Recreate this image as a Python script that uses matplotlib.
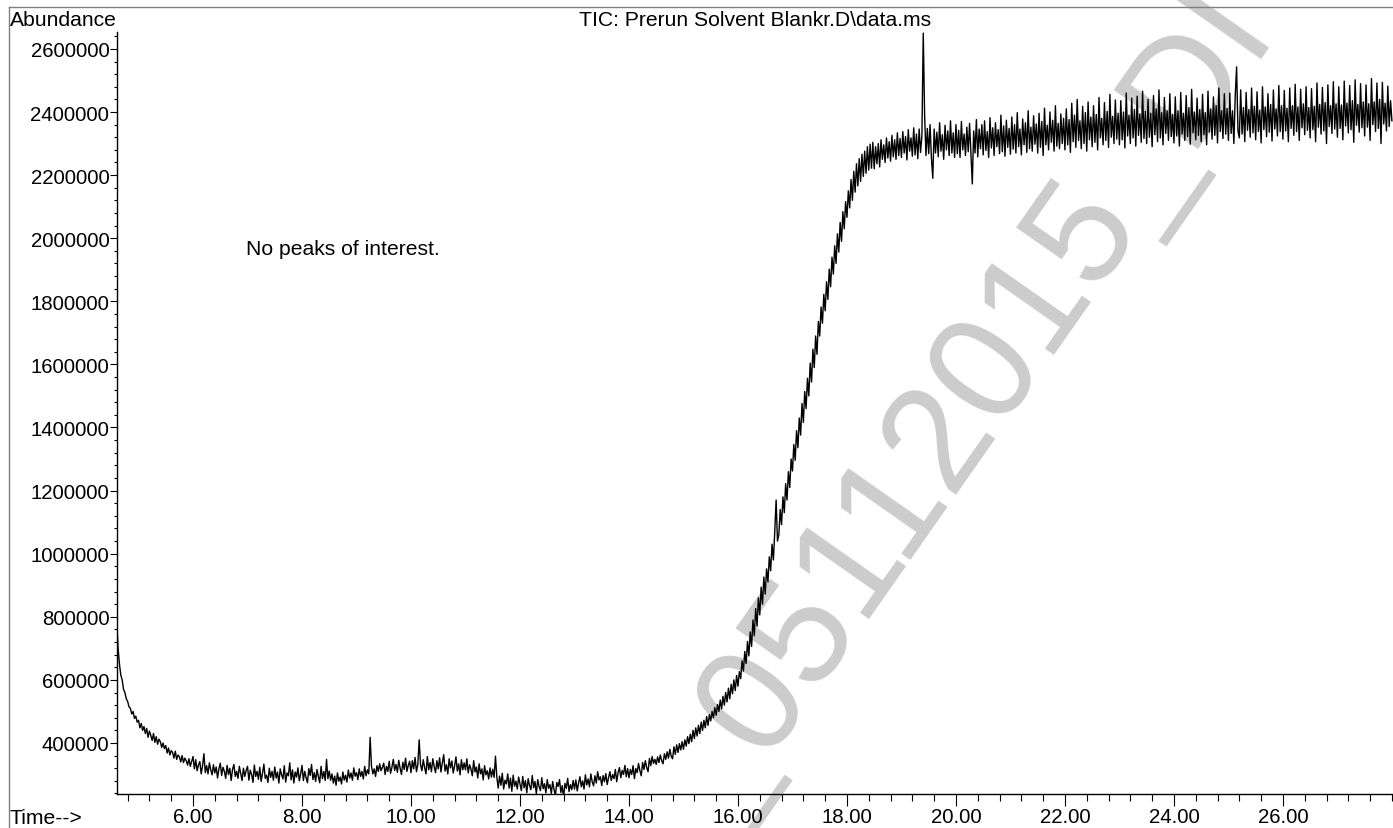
import numpy as np
import matplotlib
matplotlib.use("Agg")
import matplotlib.pyplot as plt
from matplotlib.ticker import FixedLocator, MultipleLocator, FuncFormatter
from matplotlib.lines import Line2D

plt.rcParams['font.family'] = ['Liberation Sans', 'DejaVu Sans']

# Scan grid of the TIC trace (minutes)
scan_start = 4.600
scan_step = 0.025

# Abundance, in thousands, one value per scan step
abundance_k = [
    # 4.600 - 4.975
    790, 700, 650, 615, 600, 570, 560, 540, 532, 515, 510, 492, 500, 478, 485, 466,
    # 5.000
    472, 448, 462, 440, 452, 430, 446, 418, 438, 424, 408, 430, 402, 420, 396, 412, 404, 386, 400, 382,
    # 5.500
    392, 368, 384, 362, 376, 370, 352, 374, 348, 362, 356, 340, 360, 338, 352, 344, 330, 350, 326, 342,
    # 6.000
    357, 318, 347, 312, 331, 341, 302, 328, 366, 306, 328, 302, 337, 315, 299, 331, 305, 324, 289, 318,
    # 6.500
    336, 297, 323, 310, 288, 329, 300, 320, 281, 316, 332, 294, 310, 288, 326, 304, 281, 320, 294, 313,
    # 7.000
    326, 282, 314, 301, 275, 330, 294, 310, 285, 323, 278, 304, 333, 288, 298, 275, 320, 291, 310, 282,
    # 7.500
    324, 289, 308, 273, 318, 299, 286, 328, 276, 305, 296, 337, 283, 315, 273, 308, 292, 321, 280, 302,
    # 8.000
    329, 281, 310, 290, 274, 319, 297, 332, 284, 306, 278, 316, 294, 274, 326, 287, 310, 281, 348, 287,
    # 8.500
    311, 282, 302, 273, 295, 266, 305, 279, 292, 270, 308, 282, 298, 276, 314, 289, 305, 282, 321, 295,
    # 9.000
    306, 284, 318, 294, 310, 286, 326, 296, 315, 302, 418, 326, 302, 318, 294, 328, 310, 334, 312, 323,
    # 9.500
    336, 300, 326, 310, 342, 304, 323, 348, 313, 332, 307, 345, 320, 300, 339, 316, 352, 310, 329, 342,
    # 10.000
    306, 344, 318, 354, 309, 331, 410, 331, 312, 347, 322, 302, 357, 315, 338, 309, 350, 325, 306, 344,
    # 10.500
    318, 353, 308, 337, 363, 311, 331, 302, 350, 321, 343, 305, 327, 356, 311, 334, 299, 347, 315, 337,
    # 11.000
    315, 350, 305, 331, 318, 296, 344, 308, 324, 289, 334, 302, 318, 283, 328, 299, 312, 286, 321, 292,
    # 11.500
    317, 291, 358, 292, 257, 295, 266, 304, 254, 282, 270, 302, 257, 289, 247, 298, 263, 279, 254, 292,
    # 12.000
    271, 249, 294, 258, 281, 242, 287, 265, 252, 297, 258, 278, 239, 284, 262, 249, 290, 255, 271, 242,
    # 12.500
    284, 256, 268, 240, 278, 252, 233, 275, 262, 284, 243, 265, 227, 272, 256, 288, 246, 268, 252, 281,
    # 13.000
    254, 283, 248, 273, 293, 261, 280, 254, 299, 267, 286, 261, 302, 277, 264, 296, 273, 309, 283, 293,
    # 13.500
    265, 297, 277, 303, 268, 290, 309, 281, 300, 287, 316, 277, 306, 322, 290, 313, 300, 329, 293, 319,
    # 14.000
    290, 316, 300, 328, 287, 319, 306, 335, 312, 296, 338, 316, 344, 322, 309, 351, 328, 357, 335, 348,
    # 14.500
    332, 356, 338, 362, 344, 334, 366, 348, 372, 352, 380, 358, 350, 388, 364, 394, 370, 398, 378, 404,
    # 15.000
    380, 410, 390, 420, 398, 428, 404, 440, 414, 448, 422, 456, 430, 466, 440, 472, 448, 484, 456, 490,
    # 15.500
    470, 500, 480, 512, 488, 522, 500, 536, 508, 548, 520, 560, 530, 574, 540, 586, 556, 600, 566, 614,
    # 16.000
    580, 626, 604, 660, 628, 690, 652, 722, 676, 752, 706, 790, 740, 826, 770, 860, 806, 894, 840, 926,
    # 16.500
    872, 952, 910, 990, 946, 1030, 980, 1070, 1170, 1040, 1060, 1140, 1092, 1180, 1130, 1222, 1170, 1260, 1210, 1300,
    # 17.000
    1262, 1346, 1296, 1390, 1336, 1430, 1376, 1476, 1416, 1514, 1460, 1556, 1500, 1604, 1544, 1648, 1590, 1690, 1632, 1736,
    # 17.500
    1690, 1782, 1730, 1822, 1770, 1862, 1806, 1902, 1846, 1940, 1886, 1976, 1920, 2014, 1956, 2050, 1990, 2084, 2030, 2116,
    # 18.000
    2066, 2150, 2096, 2186, 2120, 2212, 2146, 2236, 2166, 2252, 2180, 2266, 2196, 2276, 2206, 2290, 2216, 2298, 2222, 2304,
    # 18.500
    2220, 2290, 2236, 2300, 2226, 2312, 2250, 2296, 2240, 2318, 2254, 2306, 2244, 2326, 2258, 2312, 2250, 2334, 2262, 2316,
    # 19.000
    2256, 2338, 2270, 2322, 2248, 2344, 2276, 2318, 2260, 2350, 2264, 2330, 2252, 2346, 2272, 2324, 2650, 2390, 2262, 2348,
    # 19.500
    2268, 2360, 2254, 2190, 2346, 2270, 2336, 2258, 2366, 2276, 2328, 2250, 2358, 2280, 2340, 2262, 2372, 2270, 2334, 2256,
    # 20.000
    2360, 2268, 2342, 2256, 2370, 2280, 2330, 2262, 2352, 2274, 2364, 2266, 2172, 2340, 2270, 2376, 2258, 2346, 2284, 2360,
    # 20.500
    2264, 2372, 2278, 2338, 2256, 2382, 2286, 2350, 2262, 2366, 2290, 2344, 2268, 2390, 2274, 2356, 2260, 2374, 2288, 2348,
    # 21.000
    2266, 2384, 2282, 2360, 2270, 2398, 2290, 2346, 2264, 2378, 2296, 2366, 2272, 2404, 2284, 2352, 2276, 2388, 2298, 2362,
    # 21.500
    2270, 2396, 2288, 2370, 2262, 2412, 2296, 2358, 2280, 2400, 2304, 2374, 2276, 2420, 2292, 2364, 2284, 2394, 2300, 2380,
    # 22.000
    2280, 2410, 2296, 2376, 2272, 2428, 2306, 2390, 2288, 2440, 2310, 2372, 2284, 2418, 2300, 2398, 2276, 2432, 2312, 2384,
    # 22.500
    2290, 2420, 2304, 2392, 2280, 2446, 2318, 2380, 2296, 2430, 2310, 2402, 2288, 2456, 2320, 2386, 2300, 2438, 2314, 2396,
    # 23.000
    2296, 2436, 2312, 2400, 2286, 2460, 2324, 2390, 2300, 2444, 2318, 2408, 2292, 2450, 2326, 2394, 2304, 2466, 2316, 2402,
    # 23.500
    2300, 2440, 2320, 2396, 2290, 2452, 2328, 2410, 2306, 2470, 2318, 2398, 2296, 2446, 2332, 2404, 2310, 2458, 2322, 2392,
    # 24.000
    2302, 2448, 2324, 2404, 2292, 2462, 2330, 2396, 2310, 2452, 2322, 2414, 2298, 2472, 2334, 2400, 2312, 2444, 2326, 2408,
    # 24.500
    2306, 2456, 2328, 2398, 2296, 2466, 2336, 2410, 2314, 2448, 2326, 2420, 2302, 2476, 2338, 2404, 2316, 2458, 2330, 2412,
    # 25.000
    2310, 2460, 2332, 2404, 2300, 2452, 2543, 2340, 2318, 2470, 2330, 2414, 2306, 2462, 2342, 2408, 2320, 2476, 2334, 2418,
    # 25.500
    2312, 2464, 2338, 2406, 2302, 2480, 2344, 2416, 2322, 2458, 2336, 2424, 2308, 2470, 2346, 2410, 2324, 2484, 2338, 2420,
    # 26.000
    2314, 2468, 2340, 2412, 2306, 2476, 2348, 2420, 2326, 2488, 2338, 2416, 2310, 2472, 2350, 2426, 2328, 2480, 2342, 2414,
    # 26.500
    2318, 2474, 2344, 2418, 2306, 2492, 2352, 2424, 2330, 2478, 2340, 2430, 2300, 2486, 2354, 2420, 2332, 2496, 2346, 2426,
    # 27.000
    2320, 2480, 2348, 2422, 2312, 2498, 2356, 2428, 2334, 2484, 2344, 2436, 2304, 2502, 2358, 2424, 2336, 2490, 2350, 2432,
    # 27.500
    2324, 2486, 2352, 2426, 2310, 2506, 2360, 2432, 2338, 2492, 2348, 2440, 2300, 2494, 2362, 2428, 2340, 2482, 2354, 2436,
    # 28.000
    2372,
]

x_major = [6, 8, 10, 12, 14, 16, 18, 20, 22, 24, 26]
y_major = [400000, 600000, 800000, 1000000, 1200000, 1400000,
           1600000, 1800000, 2000000, 2200000, 2400000, 2600000]

title = "TIC: Prerun Solvent Blankr.D\\data.ms"
note = "No peaks of interest."
watermark = "_05112015_DI"

time = scan_start + scan_step * np.arange(len(abundance_k))
abundance = np.array(abundance_k) * 1000

W, H = 1393, 829
fig = plt.figure(figsize=(W / 100, H / 100), dpi=100)

# Watermark sits under the axes, so the axes background is left transparent
fig.text(968 / W, 1 - 414 / H, watermark, fontsize=108, color="#cccccc",
         rotation=55, rotation_mode="anchor", ha="center", va="center",
         zorder=-1)

ax = fig.add_axes([117 / W, 1 - 795 / H, 1 - 117 / W, (795 - 33) / H])
ax.set_facecolor("none")

ax.plot(time, abundance, color="black", linewidth=1.0)

ax.set_xlim(4.605, 28.02)
ax.set_ylim(238300, 2653600)

for side in ["top", "right"]:
    ax.spines[side].set_visible(False)
for side in ["left", "bottom"]:
    ax.spines[side].set_linewidth(1.0)

ax.xaxis.set_major_locator(FixedLocator(x_major))
ax.xaxis.set_minor_locator(MultipleLocator(0.4))
ax.xaxis.set_major_formatter(FuncFormatter(lambda v, p: f"{v:.2f}"))
ax.yaxis.set_major_locator(FixedLocator(y_major))
ax.yaxis.set_minor_locator(MultipleLocator(40000))
ax.yaxis.set_major_formatter(FuncFormatter(lambda v, p: f"{int(round(v))}"))

ax.tick_params(axis="x", which="major", length=8.6, width=0.8, pad=0.5,
               labelsize=14.7)
ax.tick_params(axis="x", which="minor", length=5, width=0.8)
ax.tick_params(axis="y", which="major", length=5, width=0.8, pad=0.5,
               labelsize=14.7)
ax.tick_params(axis="y", which="minor", length=2.2, width=0.8)

# Grey frame on the left and top of the page
fig.add_artist(Line2D([9 / W, 9 / W], [0, 1 - 8 / H], color="#808080",
                      linewidth=1.0, transform=fig.transFigure))
fig.add_artist(Line2D([9 / W, 1], [1 - 8 / H, 1 - 8 / H], color="#808080",
                      linewidth=1.0, transform=fig.transFigure))

fig.text(10 / W, 1 - 21 / H, "Abundance", ha="left", va="center",
         fontsize=15.2)
fig.text(10 / W, 1 - 819 / H, "Time-->", ha="left", va="center",
         fontsize=15.2)
fig.text(755 / W, 1 - 21 / H, title, ha="center", va="center",
         fontsize=15.2)
fig.text(246 / W, 1 - 250 / H, note, ha="left", va="center", fontsize=15.2)

fig.savefig("out.png", dpi=100)
